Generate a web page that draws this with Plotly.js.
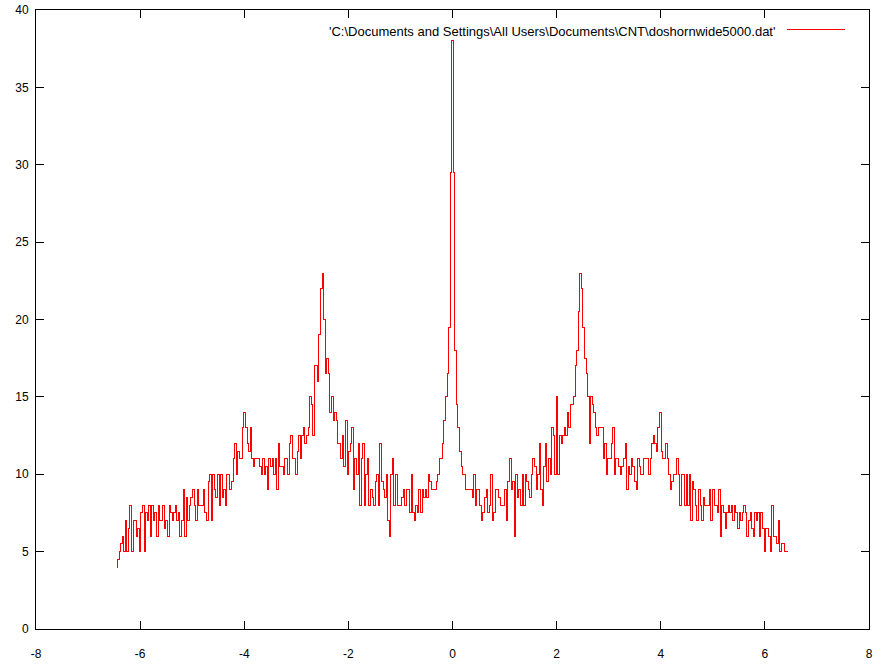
<!DOCTYPE html>
<html>
<head>
<meta charset="utf-8">
<script src="https://cdn.plot.ly/plotly-3.0.1.min.js"></script>
<style>
html, body { margin: 0; padding: 0; background: #ffffff; }
#chart { width: 893px; height: 670px; }
#chart .scatterlayer path.js-line { shape-rendering: crispEdges; }
#chart .layer-above path, #chart .shapelayer path { shape-rendering: crispEdges; }
</style>
</head>
<body>
<div id="chart"></div>
<script>
const seriesName = "'C:\\Documents and Settings\\All Users\\Documents\\CNT\\doshornwide5000.dat'";
const xStart = -6.45;
const xStep = 0.03;
const dosValues = [
  4, 4.5, 5, 5.5, 6, 5, 7, 5, 6.5, 8,
  5, 7, 7, 6, 6.5, 5, 7.5, 8, 5, 7.5,
  7, 8, 6, 8, 7, 7.5, 6, 8, 7, 7,
  8, 6.5, 7, 6, 8, 7.5, 7, 7.5, 8, 7,
  7.5, 6, 7, 9, 6, 8.5, 7, 8, 8.5, 9,
  8, 7, 9, 8, 8, 8, 9, 7.5, 7, 9.5,
  10, 7, 10, 9, 8.5, 10, 8, 10, 8.5, 9,
  8, 10, 10, 9, 9.5, 11, 12, 10, 11.5, 11,
  11, 13, 14, 13, 12, 11.5, 13, 11, 10.5, 11,
  11, 11, 10.5, 10, 11, 10, 10.5, 9, 11, 10.5,
  11, 10, 11, 9, 12, 10.5, 10.5, 10, 11, 11,
  10, 12, 12.5, 11, 11, 10, 11.5, 12.5, 11, 12.5,
  13, 12, 12.5, 13, 15, 14.5, 12.5, 17, 17, 16,
  19, 22, 23, 20, 16.5, 17.5, 16.5, 14, 15, 13.5,
  14, 13.5, 12, 12, 11, 12.5, 10.5, 13.5, 10, 11.5,
  12, 13, 9, 11, 10, 12, 8, 11, 12, 8,
  10, 11, 8, 9, 8.5, 8, 9.5, 10, 8, 12,
  9.5, 9, 8.5, 10, 7, 6, 10, 11, 8, 10,
  8, 8, 8, 8.5, 9, 8, 9, 9, 7.5, 10,
  7.5, 7, 8, 7.5, 9, 7.5, 9, 8.5, 9, 8.5,
  10, 9.5, 9, 9, 9, 9.5, 10, 11, 11, 12,
  13.5, 15, 16.5, 19.5, 29.5, 38, 29.5, 18, 14.5, 13,
  11.5, 10.5, 10, 10, 9, 9, 9, 9, 8.5, 10,
  8, 9, 9, 8, 7, 7.5, 8.5, 9, 7.5, 8,
  10, 7, 7.5, 9, 9, 8.5, 8, 8, 8, 9,
  7, 9.5, 11, 9, 9.5, 6, 10, 8.5, 9, 8,
  10, 8, 10, 9.5, 9, 8.5, 10, 11, 10.5, 9,
  10, 12, 9, 8, 10.5, 12, 9.5, 11, 10, 13,
  12.5, 10, 15, 10, 12.5, 12, 12.5, 13, 12.5, 14,
  13, 14.5, 14.5, 15, 17, 18, 20.5, 23, 22, 19.5,
  17.5, 16.5, 15, 12, 15, 14.5, 14, 13, 12.5, 13,
  13, 13, 11, 12, 10, 11, 11, 12, 13, 10,
  11, 11, 10.5, 10, 10.5, 11, 12, 9, 10.5, 10,
  11, 10.5, 9.5, 9, 11, 10.5, 10, 10, 11, 11,
  11, 10, 11, 12, 12.5, 12, 11.5, 13, 14, 11.5,
  11, 11, 12, 11, 10, 9, 9.5, 10, 10, 11,
  10, 8, 10, 10, 8, 10, 8, 10, 7, 9.5,
  9, 8, 7, 9, 8, 7, 8.5, 8, 8, 8,
  9, 7, 9, 8, 8, 7.5, 9, 6, 8, 7.5,
  6.5, 7.5, 8, 7.5, 8, 7, 8, 7.5, 6.5, 7.5,
  7, 7.5, 8, 7.5, 6, 7, 7.5, 6.5, 6, 7.5,
  7, 7.5, 6, 7.5, 6.5, 5, 6.5, 6.5, 6, 5,
  8, 6, 6, 5.5, 7, 5, 5.5, 5.5, 5, 5,
  5
];
const xTickValues = [-8, -6, -4, -2, 0, 2, 4, 6, 8];
const yTickValues = [0, 5, 10, 15, 20, 25, 30, 35, 40];

const trace = {
  type: 'scatter',
  mode: 'lines',
  name: seriesName,
  x0: xStart,
  dx: xStep,
  y: dosValues,
  line: { color: 'rgb(255,0,0)', width: 1, shape: 'hvh' },
  showlegend: false,
  hoverinfo: 'skip'
};

const axisCommon = {
  showgrid: false,
  zeroline: false,
  showline: true,
  linecolor: '#000000',
  linewidth: 1,
  mirror: 'ticks',
  ticks: 'inside',
  ticklen: 8,
  tickwidth: 1,
  tickcolor: '#000000',
  tickfont: { family: 'Liberation Sans, Arial, sans-serif', size: 12, color: '#000000' }
};

const layout = {
  width: 893,
  height: 670,
  margin: { l: 36, r: 24, t: 10, b: 41 },
  paper_bgcolor: '#ffffff',
  plot_bgcolor: '#ffffff',
  showlegend: false,
  xaxis: Object.assign({}, axisCommon, {
    range: [-8, 8],
    tickmode: 'array',
    tickvals: xTickValues,
    ticktext: xTickValues.map(String),
    ticklabelstandoff: 14
  }),
  yaxis: Object.assign({}, axisCommon, {
    range: [0, 40],
    tickmode: 'array',
    tickvals: yTickValues,
    ticktext: yTickValues.map(String),
    ticklabelstandoff: 4
  }),
  annotations: [{
    xref: 'paper', yref: 'paper',
    x: 0.8896, y: 0.966,
    xanchor: 'right', yanchor: 'middle',
    showarrow: false,
    text: seriesName,
    font: { family: 'Liberation Sans, Arial, sans-serif', size: 13, color: '#000000' }
  }],
  shapes: [{
    type: 'line', xref: 'paper', yref: 'paper',
    x0: 0.9016, x1: 0.9712, y0: 0.9693, y1: 0.9693,
    line: { color: 'rgb(255,0,0)', width: 1 }
  }]
};

Plotly.newPlot('chart', [trace], layout, { displayModeBar: false, staticPlot: true });
</script>
</body>
</html>
